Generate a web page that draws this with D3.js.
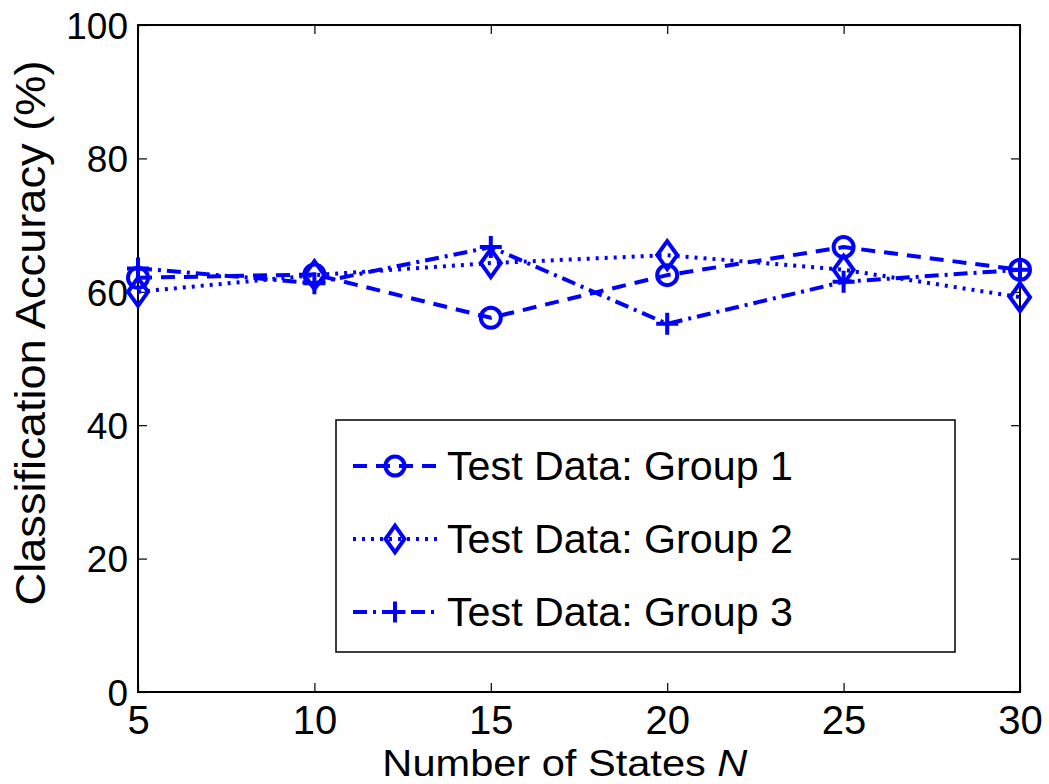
<!DOCTYPE html>
<html>
<head>
<meta charset="utf-8">
<script src="https://cdn.jsdelivr.net/npm/d3@7"></script>
<style>
  body { margin: 0; background: #fff; }
  svg { font-family: "Liberation Sans", Arial, sans-serif; }
</style>
</head>
<body>
<div id="chart"></div>
<script>
// data
var states = [5, 10, 15, 20, 25, 30];
var group1 = [62.1, 62.6, 56.1, 62.5, 66.7, 63.3];
var group2 = [60.0, 62.5, 64.3, 65.5, 63.3, 59.2];
var group3 = [63.5, 61.3, 66.7, 55.2, 61.5, 63.3];
var seriesNames = ["Test Data: Group 1", "Test Data: Group 2", "Test Data: Group 3"];
var xTicks = [5, 10, 15, 20, 25, 30];
var yTicks = [0, 20, 40, 60, 80, 100];

// set the dimensions and margins of the graph
var W = 1049, H = 784;
var margin = {top: 25, right: 29, bottom: 92, left: 138},
    width = W - margin.left - margin.right,
    height = H - margin.top - margin.bottom;

var svg = d3.select("#chart")
  .append("svg")
    .attr("width", W)
    .attr("height", H)
  .append("g")
    .attr("transform", "translate(" + margin.left + "," + margin.top + ")");

var x = d3.scaleLinear().domain([5, 30]).range([0, width]);
var y = d3.scaleLinear().domain([0, 100]).range([height, 0]);

// inside ticks on all four sides (matlab box style)
var tk = 9;
var xAxis = svg.append("g")
    .attr("transform", "translate(0," + height + ")")
    .call(d3.axisBottom(x).tickValues(xTicks).tickSizeInner(-tk).tickSizeOuter(0).tickPadding(14));
var yAxis = svg.append("g")
    .call(d3.axisLeft(y).tickValues(yTicks).tickSizeInner(-tk).tickSizeOuter(0).tickPadding(10));
svg.append("g")
    .call(d3.axisTop(x).tickValues(xTicks).tickSizeInner(-tk).tickSizeOuter(0).tickFormat(""));
svg.append("g")
    .attr("transform", "translate(" + width + ",0)")
    .call(d3.axisRight(y).tickValues(yTicks).tickSizeInner(-tk).tickSizeOuter(0).tickFormat(""));

svg.selectAll(".domain").remove();
svg.selectAll(".tick line").attr("stroke", "#000").attr("stroke-width", 1.2);

// frame
svg.append("rect")
    .attr("width", width).attr("height", height)
    .attr("fill", "none").attr("stroke", "#000").attr("stroke-width", 2);

xAxis.selectAll("text")
    .attr("font-size", 40).attr("fill", "#000")
    .attr("dy", "0.71em");
yAxis.selectAll("text")
    .attr("font-size", 37).attr("fill", "#000")
    .attr("dy", "0.36em");

// axis titles
svg.append("text")
    .attr("x", x(17.1)).attr("y", height + 84)
    .attr("text-anchor", "middle")
    .attr("font-size", 37)
    .attr("textLength", 365).attr("lengthAdjust", "spacingAndGlyphs")
    .html('Number of States <tspan font-style="italic">N</tspan>');

svg.append("text")
    .attr("transform", "translate(" + (-93) + "," + (333 - margin.top) + ") rotate(-90)")
    .attr("text-anchor", "middle")
    .attr("font-size", 42)
    .attr("textLength", 545).attr("lengthAdjust", "spacingAndGlyphs")
    .text("Classification Accuracy (%)");

// series styles
var blue = "#0000ff";
var dashes = ["14,9", "3,6", "14,6,3,6"];
var allSeries = [group1, group2, group3];

function marker(g, kind, s) {
  s = s || 1;
  if (kind === 0) {
    g.append("circle").attr("r", 10 * s);
  } else if (kind === 1) {
    g.append("path").attr("d", "M0," + (-14 * s) + "L" + (10 * s) + ",0L0," + (14 * s) + "L" + (-10 * s) + ",0Z");
  } else {
    g.append("path").attr("d", "M" + (-11 * s) + ",0H" + (11 * s) + "M0," + (-11 * s) + "V" + (11 * s));
  }
  g.attr("fill", "none").attr("stroke", blue).attr("stroke-width", 4);
}

var line = d3.line()
    .x(function(d, i) { return x(states[i]); })
    .y(function(d) { return y(d); });

allSeries.forEach(function(s, k) {
  svg.append("path")
      .datum(s)
      .attr("d", line)
      .attr("fill", "none")
      .attr("stroke", blue)
      .attr("stroke-width", 4)
      .attr("stroke-dasharray", dashes[k]);
});

allSeries.forEach(function(s, k) {
  svg.append("g").selectAll("g")
    .data(s)
    .enter()
    .append("g")
      .attr("transform", function(d, i) { return "translate(" + x(states[i]) + "," + y(d) + ")"; })
      .each(function() { marker(d3.select(this), k); });
});

// legend
var leg = svg.append("g").attr("transform", "translate(" + (336 - margin.left) + "," + (420 - margin.top) + ")");
leg.append("rect")
    .attr("width", 619).attr("height", 232)
    .attr("fill", "#fff").attr("stroke", "#000").attr("stroke-width", 1.5);

seriesNames.forEach(function(name, k) {
  var cy = 46 + k * 73;
  leg.append("line")
      .attr("x1", 17).attr("x2", 101).attr("y1", cy).attr("y2", cy)
      .attr("stroke", blue).attr("stroke-width", 4)
      .attr("stroke-dasharray", dashes[k]);
  var m = leg.append("g").attr("transform", "translate(59," + cy + ")");
  marker(m, k, 0.95);
  leg.append("text")
      .attr("x", 111).attr("y", cy).attr("dy", "0.36em")
      .attr("font-size", 40)
      .attr("textLength", 346).attr("lengthAdjust", "spacingAndGlyphs")
      .text(name);
});
</script>
</body>
</html>
